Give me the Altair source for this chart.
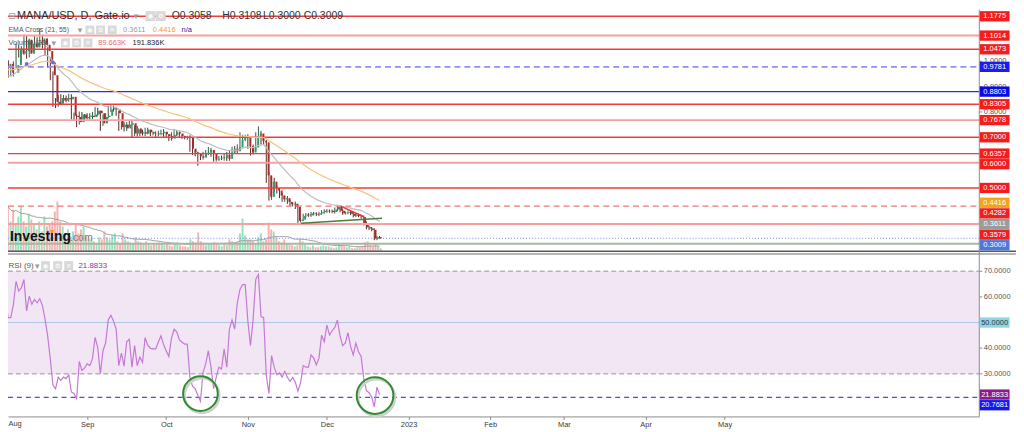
import altair as alt
import pandas as pd

# ---------------- values ----------------
first_day = "2022-07-30"
first_open = 1.02

close_jul_aug = [1.00, 0.975, 0.99, 0.955, 0.955, 0.985, 1.05, 1.03, 1.04, 1.085, 1.03, 1.07, 1.055, 1.075,
                 1.07, 1.09, 1.065, 1.04, 0.995, 0.945, 0.84, 0.83, 0.855, 0.845, 0.855, 0.85, 0.86, 0.785,
                 0.78, 0.76, 0.79, 0.775, 0.78]
close_sep = [0.785, 0.78, 0.79, 0.805, 0.795, 0.755, 0.78, 0.785, 0.81, 0.815, 0.81, 0.795, 0.74, 0.75,
             0.735, 0.75, 0.755, 0.715, 0.735, 0.715, 0.72, 0.715, 0.73, 0.72, 0.715, 0.715, 0.712, 0.716,
             0.722, 0.712]
close_oct = [0.705, 0.695, 0.71, 0.72, 0.715, 0.705, 0.70, 0.698, 0.698, 0.655, 0.64, 0.635, 0.625, 0.62,
             0.635, 0.64, 0.65, 0.635, 0.612, 0.615, 0.62, 0.618, 0.63, 0.615, 0.64, 0.655, 0.645, 0.66,
             0.69, 0.70, 0.70]
close_nov = [0.665, 0.64, 0.66, 0.705, 0.715, 0.685, 0.68, 0.55, 0.465, 0.525, 0.50, 0.49, 0.47, 0.455,
             0.46, 0.445, 0.435, 0.438, 0.425, 0.37, 0.375, 0.39, 0.395, 0.392, 0.40, 0.398, 0.395, 0.40,
             0.405, 0.41]
close_dec = [0.408, 0.41, 0.405, 0.415, 0.425, 0.41, 0.40, 0.402, 0.405, 0.398, 0.39, 0.395, 0.39, 0.385,
             0.36, 0.345, 0.34, 0.335, 0.30, 0.3058, 0.3009]

upper_wick_jul_aug = [.015, .02, .02, .015, .02, .015, .02, .015, .02, .02, .015, .02, .015, .025, .02, .04,
                      .015, .015, .015, .02, .015, .015, .012, .015, .012, .01, .012, .01, .012, .01, .012,
                      .01, .012]
upper_wick_sep = [.01, .01, .01, .015, .012, .01, .01, .01, .015, .012, .01, .01, .01, .012, .01, .01, .012,
                  .01, .012, .01, .01, .01, .008, .008, .01, .008, .008, .01, .008, .01]
upper_wick_oct = [.008, .008, .01, .012, .008, .008, .006, .006, .008, .01, .008, .01, .008, .01, .008, .01,
                  .012, .008, .008, .008, .006, .008, .008, .012, .01, .008, .01, .012, .03, .01, .01]
upper_wick_nov = [.012, .01, .012, .015, .028, .01, .012, .01, .015, .02, .015, .01, .01, .01, .01, .008,
                  .008, .006, .008, .01, .008, .008, .006, .006, .006, .006, .006, .006, .008, .006]
upper_wick_dec = [.006, .006, .005, .008, .008, .006, .006, .005, .006, .005, .005, .006, .005, .005, .006,
                  .008, .006, .006, .006, .005, .005]

lower_wick_jul_aug = [.015, .02, .015, .02, .015, .015, .012, .015, .015, .015, .02, .015, .02, .015, .015,
                      .015, .015, .015, .02, .02, .02, .015, .01, .015, .01, .012, .01, .015, .015, .02, .01,
                      .012, .01]
lower_wick_sep = [.01, .01, .008, .01, .01, .03, .01, .01, .01, .01, .008, .01, .015, .01, .012, .01, .01,
                  .015, .01, .012, .01, .008, .01, .008, .01, .008, .01, .008, .008, .01]
lower_wick_oct = [.008, .01, .008, .008, .01, .008, .006, .006, .008, .012, .01, .01, .037, .01, .008, .01,
                  .01, .012, .008, .008, .008, .008, .01, .008, .008, .01, .008, .01, .012, .01, .015]
lower_wick_nov = [.01, .012, .008, .01, .01, .012, .01, .03, .015, .012, .015, .012, .01, .01, .01, .008,
                  .008, .008, .008, .008, .006, .006, .006, .006, .006, .006, .006, .006, .006, .006]
lower_wick_dec = [.006, .006, .005, .006, .006, .006, .006, .005, .006, .005, .006, .005, .005, .006, .008,
                  .008, .006, .006, .006, .006, .0009]

volume_k_jul_aug = [1860, 1350, 900, 1260, 840, 1050, 1350, 900, 750, 1140, 960, 840, 660, 900, 600, 1050,
                    750, 840, 900, 1200, 1500, 900, 750, 540, 660, 450, 600, 840, 540, 660, 750, 450, 360]
volume_k_sep = [360, 300, 240, 420, 360, 600, 420, 360, 480, 540, 300, 240, 540, 360, 300, 270, 240, 420,
                300, 270, 240, 300, 210, 180, 240, 210, 270, 240, 180, 210]
volume_k_oct = [180, 150, 240, 270, 180, 150, 150, 120, 360, 300, 270, 570, 300, 210, 180, 240, 210, 270,
                240, 180, 150, 210, 180, 360, 300, 240, 270, 540, 990, 480, 360]
volume_k_nov = [360, 300, 240, 420, 540, 300, 360, 870, 660, 600, 420, 300, 270, 360, 240, 210, 180, 150,
                180, 360, 300, 210, 150, 120, 180, 120, 120, 150, 180, 150]
volume_k_dec = [150, 120, 90, 120, 240, 180, 150, 120, 150, 90, 90, 120, 120, 150, 270, 300, 180, 150, 240,
                150, 89.663]

rsi_jul_aug = [62.9, 56.5, 59.0, 51.9, 51.9, 57.1, 66.1, 62.3, 63.5, 66.8, 54.5, 60.3, 57.1, 59.0, 57.7,
               59.3, 56.7, 51.3, 44.8, 35.8, 25.5, 24.2, 28.7, 27.4, 28.7, 28.1, 29.6, 22.9, 22.3, 20.3,
               34.8, 31.3, 32.2]
rsi_sep = [33.9, 33.2, 35.8, 44.2, 40.3, 30.0, 39.0, 42.0, 51.0, 52.8, 50.6, 47.4, 33.2, 38.1, 33.0, 42.5,
           43.5, 32.6, 41.0, 33.2, 36.5, 34.5, 44.1, 41.2, 39.9, 39.7, 39.7, 42.3, 44.8, 41.4]
rsi_oct = [39.0, 36.8, 43.8, 47.4, 46.4, 43.3, 42.3, 41.6, 41.6, 28.7, 25.1, 24.2, 21.6, 19.3, 30.6, 33.9,
           39.0, 32.6, 24.2, 28.7, 32.6, 31.9, 39.7, 32.6, 47.4, 51.0, 47.4, 57.7, 62.9, 64.8, 64.8]
rsi_nov = [50.6, 41.0, 51.3, 66.8, 68.7, 52.3, 51.9, 29.4, 22.3, 37.1, 32.6, 29.6, 30.4, 28.7, 30.9, 28.7,
           27.0, 28.6, 26.8, 23.2, 26.5, 33.2, 32.6, 32.6, 37.4, 36.1, 33.5, 36.1, 45.1, 42.5]
rsi_dec = [49.0, 45.1, 46.8, 48.1, 51.0, 44.8, 41.0, 42.0, 46.1, 40.7, 37.4, 42.0, 38.6, 36.8, 28.1, 23.5,
           22.6, 21.0, 17.1, 24.8, 21.8833]

ema21_seed = 0.925
ema55_seed = 0.965

# horizontal levels drawn on the price pane
levels_red = [1.1775, 1.0473, 0.8305, 0.7000, 0.6357, 0.5000]
levels_pink = [1.1014, 0.7678, 0.6000, 0.3579]
levels_red_dashed = [0.4282]
levels_blue = [0.8803]
levels_blue_dashed = [0.9781]
last_price = 0.3009
base_level = 0.2797

# right-side price tags
price_tags = [1.1775, 1.1014, 1.0473, 0.9781, 0.8803, 0.8305, 0.7678, 0.7000, 0.6357, 0.6000, 0.5000,
              0.4416, 0.4282, 0.3611, 0.3579, 0.3009]
price_tag_colors = ["#f21d1d", "#f21d1d", "#f21d1d", "#1c1cf0", "#0a0ae4", "#f21d1d", "#f21d1d", "#f21d1d",
                    "#f21d1d", "#f21d1d", "#f21d1d", "#f7a21b", "#f21d1d", "#9b9b9b", "#f21d1d", "#4d77dd"]
price_ticks = [1.0, 0.9, 0.8]

rsi_tags = [50.0, 21.8833, 20.7681]
rsi_tag_colors = ["#8ed6e6", "#8d1b8d", "#1515f0"]
rsi_tag_text = ["#333333", "#ffffff", "#ffffff"]
rsi_ticks = [70, 60, 40, 30]
rsi_band = [30, 70]
rsi_mid = 50
rsi_low_mark = 20.7681

# drawings
green_trend_dates = ["2022-11-21T05:00:00", "2022-12-21T22:00:00"]
green_trend_prices = [0.3608, 0.3803]
red_trend_dates = ["2022-12-06T05:00:00", "2022-12-15T00:00:00"]
red_trend_prices = [0.4285, 0.3866]
cross_dates = ["2022-08-09T00:00:00", "2022-08-19T00:00:00"]
cross_prices = [0.9896, 0.9955]
circle_dates = ["2022-10-14T00:00:00", "2022-12-19T07:00:00"]
circle_rsi = [22.26, 21.5]
circle_sizes = [1225, 1369]

month_ticks = [(2022, 9), (2022, 10), (2022, 11), (2022, 12), (2023, 1), (2023, 2), (2023, 3), (2023, 4),
               (2023, 5)]

# ---------------- build tables ----------------
closes = close_jul_aug + close_sep + close_oct + close_nov + close_dec
uw = upper_wick_jul_aug + upper_wick_sep + upper_wick_oct + upper_wick_nov + upper_wick_dec
lw = lower_wick_jul_aug + lower_wick_sep + lower_wick_oct + lower_wick_nov + lower_wick_dec
vols = volume_k_jul_aug + volume_k_sep + volume_k_oct + volume_k_nov + volume_k_dec
rsi = rsi_jul_aug + rsi_sep + rsi_oct + rsi_nov + rsi_dec

dates = pd.date_range(first_day, periods=len(closes), freq="D").strftime("%Y-%m-%dT%H:%M:%S")
opens = [first_open] + closes[:-1]


def ema(values, span, seed):
    a = 2.0 / (span + 1)
    out, e = [], seed
    for v in values:
        e = a * v + (1 - a) * e
        out.append(e)
    return out


df = pd.DataFrame({"date": dates, "open": opens, "close": closes, "vol": vols, "rsi": rsi})
df["body_hi"] = df[["open", "close"]].max(axis=1)
df["body_lo"] = df[["open", "close"]].min(axis=1)
df["high"] = df["body_hi"] + uw
df["low"] = df["body_lo"] - lw
df["up"] = df["close"] >= df["open"]
df["body_color"] = df["up"].map({True: "#2f9a6a", False: "#a32d2a"})
df["wick_color"] = df["up"].map({True: "#2b5e47", False: "#5e2422"})
df["vol_color"] = df["up"].map({True: "#86dcb2", False: "#f5a5a5"})
df["zero"] = 0.0
df["vol_ma"] = df["vol"].rolling(20, min_periods=1).mean()
df["ema21"] = ema(closes, 21, ema21_seed)
df["ema55"] = ema(closes, 55, ema55_seed)

# ---------------- geometry ----------------
W, H = 979, 410
x_scale = alt.Scale(domain=[alt.DateTime(year=2022, month=8, date=1, hours=22, minutes=36),
                            alt.DateTime(year=2023, month=8, date=5, hours=16, minutes=19)])
p_scale = alt.Scale(domain=[-0.4016, 1.2037], zero=False, nice=False)
v_scale = alt.Scale(domain=[-4995, 7305], zero=False, nice=False)
r_scale = alt.Scale(domain=[13.36, 172.09], zero=False, nice=False)
px_per_price = 255.4
px_per_rsi = 2.583

x_axis = alt.Axis(values=[alt.DateTime(year=y, month=m, date=1) for y, m in month_ticks], title=None,
                  grid=False, domainColor="#8c8c8c", tickColor="#8c8c8c", tickSize=3, labelPadding=1,
                  labelFont="Liberation Sans", labelFontSize=7.5, labelColor="#3a3a3a",
                  labelOverlap=False, labelFlush=False,
                  labelExpr="month(datum.value) == 0 ? timeFormat(datum.value, '%Y') : timeFormat(datum.value, '%b')")


def X(field="date", axis=None):
    return alt.X(f"{field}:T", scale=x_scale, axis=axis)


def PY(field):
    return alt.Y(f"{field}:Q", scale=p_scale, axis=None)


def RY(field):
    return alt.Y(f"{field}:Q", scale=r_scale, axis=None)


def stack(values, gap):
    pos = []
    for v in values:
        pos.append(v if not pos else min(v, pos[-1] - gap))
    return pos


FONT = "Liberation Sans"
layers = []

# ---- RSI pane ----
band_df = pd.DataFrame({"lo": [rsi_band[0]], "hi": [rsi_band[1]]})
layers.append(alt.Chart(band_df).mark_rect(color="#f2e6f4").encode(
    x=alt.value(0), x2=alt.value(W), y=RY("lo"), y2="hi:Q"))
layers.append(alt.Chart(pd.DataFrame({"v": rsi_band})).mark_rule(
    color="#b9b1ba", strokeWidth=1.5, strokeDash=[5, 3]).encode(x=alt.value(0), x2=alt.value(W), y=RY("v")))
layers.append(alt.Chart(pd.DataFrame({"v": [rsi_mid]})).mark_rule(color="#a9c7e4", strokeWidth=1).encode(
    x=alt.value(0), x2=alt.value(W), y=RY("v")))
layers.append(alt.Chart(pd.DataFrame({"v": [rsi_low_mark]})).mark_rule(
    color="#4848ff", strokeWidth=1.3, strokeDash=[5, 4]).encode(x=alt.value(0), x2=alt.value(W), y=RY("v")))
layers.append(alt.Chart(df).mark_line(color="#c47ad4", strokeWidth=1.2).encode(
    x=X(axis=x_axis), y=RY("rsi")))
circ_df = pd.DataFrame({"date": circle_dates, "r": circle_rsi, "sz": circle_sizes})
layers.append(alt.Chart(circ_df).mark_point(shape="circle", filled=False, strokeWidth=2.5, color="#cfcfcf",
                                            xOffset=1.5, yOffset=2, opacity=1).encode(
    x=X(), y=RY("r"), size=alt.Size("sz:Q", scale=None)))
layers.append(alt.Chart(circ_df).mark_point(shape="circle", filled=False, strokeWidth=2, color="#2e8b2e",
                                            opacity=1).encode(
    x=X(), y=RY("r"), size=alt.Size("sz:Q", scale=None)))

# ---- price pane ----
layers.append(alt.Chart(df).mark_bar(size=2, opacity=0.85).encode(
    x=X(), y=alt.Y("vol:Q", scale=v_scale, axis=None), y2="zero:Q", color=alt.Color("vol_color:N", scale=None)))
layers.append(alt.Chart(df).mark_line(color="#a0a0a0", strokeWidth=1).encode(
    x=X(), y=alt.Y("vol_ma:Q", scale=v_scale, axis=None)))


def hlines(values, color, width, dash=None):
    kw = dict(color=color, strokeWidth=width)
    if dash:
        kw["strokeDash"] = dash
    return alt.Chart(pd.DataFrame({"v": values})).mark_rule(**kw).encode(
        x=alt.value(0), x2=alt.value(W), y=PY("v"))


layers.append(hlines([base_level], "#a9b6a0", 2))
layers.append(hlines([last_price], "#8aa4e6", 1.2, [1, 2]))
layers.append(alt.Chart(df).mark_rule(strokeWidth=1).encode(
    x=X(), y=PY("low"), y2="high:Q", color=alt.Color("wick_color:N", scale=None)))
layers.append(alt.Chart(df).mark_bar(size=2).encode(
    x=X(), y=PY("body_lo"), y2="body_hi:Q", color=alt.Color("body_color:N", scale=None)))
layers.append(hlines(levels_red, "#f03c3c", 1.4))
layers.append(hlines(levels_pink, "#f6a0a0", 2))
layers.append(hlines(levels_red_dashed, "#f07575", 1.4, [6, 4]))
layers.append(hlines(levels_blue, "#2f2fe0", 1.4))
layers.append(hlines(levels_blue_dashed, "#8f8ff2", 1.6, [6, 4]))
layers.append(alt.Chart(df).mark_line(color="#f7c07d", strokeWidth=1.2).encode(x=X(), y=PY("ema55")))
layers.append(alt.Chart(df).mark_line(color="#bdbdbd", strokeWidth=1.2).encode(x=X(), y=PY("ema21")))
layers.append(alt.Chart(pd.DataFrame({"date": green_trend_dates, "p": green_trend_prices})).mark_line(
    color="#4f7d3c", strokeWidth=1.5).encode(x=X(), y=PY("p")))
layers.append(alt.Chart(pd.DataFrame({"date": red_trend_dates, "p": red_trend_prices})).mark_line(
    color="#e23b3b", strokeWidth=1.5).encode(x=X(), y=PY("p")))
layers.append(alt.Chart(pd.DataFrame({"date": cross_dates, "p": cross_prices})).mark_point(
    filled=True, size=14, color="#6a6ad8", opacity=1).encode(x=X(), y=PY("p")))

# ---- frame: separator, right axis ----
layers.append(alt.Chart(pd.DataFrame({"k": [0]})).mark_rule(color="#5a5a5a", strokeWidth=1.5).encode(
    x=alt.value(0), x2=alt.value(W + 37), y=alt.value(243.5)))
layers.append(alt.Chart(pd.DataFrame({"k": [0]})).mark_rule(color="#a0a0a0", strokeWidth=1.5).encode(
    x=alt.value(0), x2=alt.value(W + 37), y=alt.value(246.2)))
layers.append(alt.Chart(pd.DataFrame({"k": [0]})).mark_rule(color="#8c8c8c", strokeWidth=1).encode(
    x=alt.value(W), y=alt.value(0), y2=alt.value(H)))

# tick labels (the price ones peek out above the coloured tags, as in the reference)
pt_df = pd.DataFrame({"v": price_ticks, "lbl": [f"{v:.4f}" for v in price_ticks]})
layers.append(alt.Chart(pt_df).mark_rule(color="#8c8c8c").encode(x=alt.value(W), x2=alt.value(W + 3), y=PY("v")))
layers.append(alt.Chart(pt_df).mark_text(align="left", baseline="middle", font=FONT, fontSize=7.5,
                                         color="#555555").encode(x=alt.value(W + 4.5), y=PY("v"), text="lbl:N"))
rt_df = pd.DataFrame({"v": rsi_ticks, "lbl": [f"{v:.4f}" for v in rsi_ticks]})
layers.append(alt.Chart(rt_df).mark_rule(color="#8c8c8c").encode(x=alt.value(W), x2=alt.value(W + 3), y=RY("v")))
layers.append(alt.Chart(rt_df).mark_text(align="left", baseline="middle", font=FONT, fontSize=7.5,
                                         color="#555555").encode(x=alt.value(W + 4.5), y=RY("v"), text="lbl:N"))

# price tags
ppos = stack(price_tags, 10.7 / px_per_price)
half_p = 5.2 / px_per_price
tag_df = pd.DataFrame({"pos": ppos, "top": [p + half_p for p in ppos], "bot": [p - half_p for p in ppos],
                       "fill": price_tag_colors, "lbl": [f"{v:.4f}" for v in price_tags]})
layers.append(alt.Chart(tag_df).mark_rect().encode(
    x=alt.value(W + 0.5), x2=alt.value(W + 30.5), y=PY("top"), y2="bot:Q", color=alt.Color("fill:N", scale=None)))
layers.append(alt.Chart(tag_df).mark_text(align="center", baseline="middle", font=FONT, fontSize=7.5,
                                          color="#ffffff").encode(x=alt.value(W + 15.5), y=PY("pos"), text="lbl:N"))
rpos = stack(rsi_tags, 10.7 / px_per_rsi)
half_r = 5.2 / px_per_rsi
rtag_df = pd.DataFrame({"pos": rpos, "top": [p + half_r for p in rpos], "bot": [p - half_r for p in rpos],
                        "fill": rsi_tag_colors, "tc": rsi_tag_text, "lbl": [f"{v:.4f}" for v in rsi_tags]})
layers.append(alt.Chart(rtag_df).mark_rect().encode(
    x=alt.value(W + 0.5), x2=alt.value(W + 30.5), y=RY("top"), y2="bot:Q", color=alt.Color("fill:N", scale=None)))
layers.append(alt.Chart(rtag_df).mark_text(align="center", baseline="middle", font=FONT, fontSize=7.5).encode(
    x=alt.value(W + 15.5), y=RY("pos"), text="lbl:N", color=alt.Color("tc:N", scale=None)))

# first month label (its tick lies at the very left edge)
layers.append(alt.Chart(pd.DataFrame({"px": [0.5], "t": ["Aug"]})).mark_text(
    baseline="top", align="left", font=FONT, fontSize=7.5, color="#3a3a3a").encode(
    x=alt.X("px:Q", scale=None, axis=None), y=alt.value(414), text="t:N"))

# ---- legends / header texts ----
hdr = pd.DataFrame([
    (9, 6.5, "MANA/USD, D, Gate.io", "#2b2b2b", 11),
    (165, 6.5, "O0.3058", "#333333", 10.5),
    (216, 6.5, "H0.3108", "#333333", 10.5),
    (257, 6.5, "L0.3000", "#333333", 10.5),
    (298, 6.5, "C0.3009", "#333333", 10.5),
    (0.5, 20.5, "EMA Cross (21, 55)", "#555555", 7),
    (116, 20.5, "0.3611", "#9a9a9a", 7.5),
    (146, 20.5, "0.4416", "#f5a020", 7.5),
    (175, 20.5, "n/a", "#23238f", 7.5),
    (0.5, 33.5, "Volume (20)", "#555555", 7.5),
    (91, 33.5, "89.663K", "#f06a6a", 7.5),
    (125.5, 33.5, "191.836K", "#222222", 7.5),
    (0.5, 258, "RSI (9)", "#555555", 8),
    (71, 258, "21.8833", "#9b2fa8", 8),
], columns=["px", "py", "text", "color", "size"])
layers.append(alt.Chart(hdr).mark_text(align="left", baseline="middle", font=FONT).encode(
    x=alt.X("px:Q", scale=None, axis=None), y=alt.Y("py:Q", scale=None, axis=None), text="text:N",
    color=alt.Color("color:N", scale=None), size=alt.Size("size:Q", scale=None)))

icons = pd.DataFrame([
    (143.7, 6.5, "◉", 100), (154, 6.5, "⚙", 100),
    (82.5, 20.5, "◉", 81), (93.3, 20.5, "⚙", 81), (105, 20.5, "✕", 81),
    (57.8, 33.5, "◉", 81), (69.2, 33.5, "⚙", 81), (80.7, 33.5, "✕", 81),
    (37.8, 258, "◉", 81), (50, 258, "⚙", 81), (61.2, 258, "✕", 81),
], columns=["px", "py", "g", "s"])
layers.append(alt.Chart(icons).mark_square(color="#d9d9d9", opacity=1).encode(
    x=alt.X("px:Q", scale=None, axis=None), y=alt.Y("py:Q", scale=None, axis=None), size=alt.Size("s:Q", scale=None)))
layers.append(alt.Chart(icons).mark_text(align="center", baseline="middle", font="DejaVu Sans", fontSize=6.5,
                                        color="#ffffff").encode(
    x=alt.X("px:Q", scale=None, axis=None), y=alt.Y("py:Q", scale=None, axis=None), text="g:N"))
arrows = pd.DataFrame([(129, 6.5, "▾"), (72.5, 20.5, "▾"), (46, 33.5, "▾"), (29.5, 258, "▾"), (4, 6.5, "⊟")],
                      columns=["px", "py", "g"])
layers.append(alt.Chart(arrows).mark_text(align="center", baseline="middle", font="DejaVu Sans", fontSize=9,
                                         color="#9a9a9a").encode(
    x=alt.X("px:Q", scale=None, axis=None), y=alt.Y("py:Q", scale=None, axis=None), text="g:N"))

# watermark
layers.append(alt.Chart(pd.DataFrame({"px": [2], "py": [233], "t": ["Investing"]})).mark_text(
    align="left", baseline="alphabetic", font=FONT, fontSize=14, fontWeight="bold", color="#111111").encode(
    x=alt.X("px:Q", scale=None, axis=None), y=alt.Y("py:Q", scale=None, axis=None), text="t:N"))
layers.append(alt.Chart(pd.DataFrame({"px": [62.5], "py": [233], "t": [".com"]})).mark_text(
    align="left", baseline="alphabetic", font=FONT, fontSize=10.5, color="#7a7a7a").encode(
    x=alt.X("px:Q", scale=None, axis=None), y=alt.Y("py:Q", scale=None, axis=None), text="t:N"))
layers.append(alt.Chart(pd.DataFrame({"px": [44.4], "py": [223.5]})).mark_square(
    color="#f39c12", size=9, opacity=1).encode(
    x=alt.X("px:Q", scale=None, axis=None), y=alt.Y("py:Q", scale=None, axis=None)))

chart = alt.layer(*layers).resolve_scale(
    x="independent", y="independent", color="independent", size="independent"
).properties(
    width=W, height=H,
    autosize=alt.AutoSizeParams(type="none"),
    padding={"left": 0, "top": 0, "right": 37, "bottom": 14},
    background="#ffffff",
).configure_view(stroke=None)

chart.save("out.html", embed_options={"renderer": "svg", "actions": False})
